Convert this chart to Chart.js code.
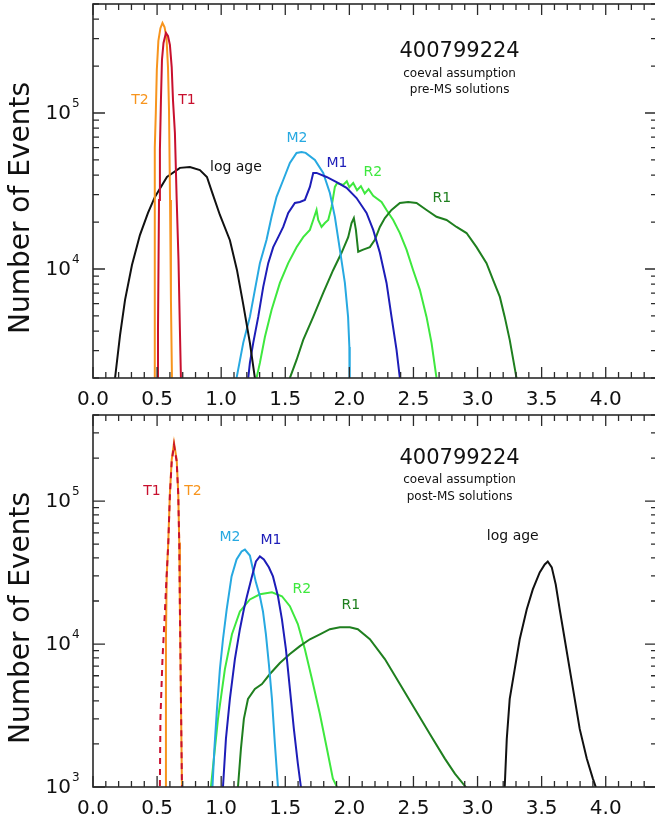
<!DOCTYPE html>
<html>
<head>
<meta charset="utf-8">
<script src="https://cdn.jsdelivr.net/npm/chart.js@4.4.1/dist/chart.umd.min.js"></script>
<style>
  html, body { margin: 0; padding: 0; background: #fff; overflow: hidden; }
  #page { position: relative; width: 655px; height: 820px; overflow: hidden; }
  canvas { position: absolute; left: 0; }
  #preChart { top: 0; }
  #postChart { top: 405px; }
</style>
</head>
<body>
<div id="page">
  <canvas id="preChart" width="660" height="405"></canvas>
  <canvas id="postChart" width="660" height="415"></canvas>
</div>
<script>
// histogram outlines, [age, events] pairs

// pre-MS solutions
const preLogAge = [
  [0.160, 1500], [0.172, 2000], [0.211, 3770], [0.250, 6340], [0.304, 10600],
  [0.366, 16500], [0.429, 22900], [0.483, 29000], [0.577, 38900], [0.678, 44500],
  [0.756, 45100], [0.834, 43100], [0.889, 38900], [0.928, 31200], [0.990, 22200],
  [1.068, 15300], [1.123, 9860], [1.170, 6060], [1.224, 3360], [1.263, 2000], [1.275, 1500]
]
const preT2 = [
  [0.479, 1000], [0.482, 60000], [0.490, 100000], [0.498, 190000], [0.510, 290000],
  [0.526, 350000], [0.542, 378000], [0.558, 356000], [0.573, 307000], [0.585, 197000],
  [0.593, 105000], [0.601, 27700], [0.608, 6340], [0.616, 2000], [0.620, 1000]
]
const preT1 = [
  [0.503, 1000], [0.507, 4060], [0.515, 27700], [0.522, 57900], [0.530, 121000],
  [0.538, 219000], [0.550, 281000], [0.569, 326000], [0.585, 312000], [0.600, 273000],
  [0.614, 197000], [0.624, 121000], [0.639, 74500], [0.653, 27700], [0.667, 11400],
  [0.678, 4060], [0.686, 2000], [0.690, 1000]
]
const preM2 = [
  [1.115, 1500], [1.120, 2000], [1.172, 3360], [1.224, 4930], [1.263, 7350],
  [1.302, 10900], [1.354, 15400], [1.393, 21600], [1.432, 29000], [1.484, 37200],
  [1.536, 47900], [1.588, 55500], [1.627, 56300], [1.659, 55500], [1.731, 50000],
  [1.796, 41300], [1.848, 30700], [1.887, 21600], [1.926, 13300], [1.965, 8140],
  [1.990, 4930], [2.000, 3160], [2.003, 1000]
]
const preM1 = [
  [1.205, 1500], [1.211, 2000], [1.224, 2500], [1.250, 3360], [1.289, 4930],
  [1.328, 7680], [1.367, 10900], [1.406, 13800], [1.445, 16000], [1.484, 18600],
  [1.523, 22900], [1.575, 26500], [1.614, 26900], [1.653, 27700], [1.692, 33600],
  [1.718, 41300], [1.744, 41300], [1.822, 38900], [1.900, 36100], [1.978, 33100],
  [2.056, 28500], [2.134, 22900], [2.186, 17800], [2.238, 12700], [2.290, 8140],
  [2.329, 4930], [2.368, 3030], [2.394, 2000], [2.400, 1500]
]
const preR2 = [
  [1.270, 1500], [1.276, 2000], [1.302, 2500], [1.341, 3660], [1.393, 5460],
  [1.458, 8140], [1.523, 10900], [1.588, 13800], [1.640, 16000], [1.692, 17800],
  [1.718, 20600], [1.744, 23900], [1.757, 20600], [1.783, 18600], [1.809, 19700],
  [1.835, 20600], [1.861, 25000], [1.887, 33600], [1.905, 35600], [1.952, 34600],
  [1.980, 36500], [2.000, 33500], [2.030, 35600], [2.060, 32000], [2.090, 34000],
  [2.120, 30500], [2.150, 32500], [2.186, 29500], [2.251, 26900], [2.290, 23900],
  [2.342, 20600], [2.394, 17000], [2.446, 13300], [2.497, 9860], [2.550, 7350],
  [2.602, 4930], [2.641, 3360], [2.680, 2000], [2.690, 1500]
]
const preR1 = [
  [1.530, 1500], [1.536, 2000], [1.588, 2610], [1.640, 3510], [1.718, 4930],
  [1.796, 7020], [1.874, 9860], [1.939, 12700], [1.991, 16000], [2.017, 19700],
  [2.035, 21200], [2.051, 17800], [2.069, 12900], [2.108, 13300], [2.160, 13800],
  [2.199, 15400], [2.238, 18600], [2.277, 21200], [2.329, 23900], [2.394, 26500],
  [2.459, 26900], [2.524, 26500], [2.602, 23900], [2.680, 21600], [2.758, 20600],
  [2.836, 18600], [2.914, 17000], [2.992, 13800], [3.070, 10900], [3.121, 8510],
  [3.174, 6620], [3.212, 4930], [3.251, 3510], [3.304, 2000], [3.310, 1500]
]

// post-MS solutions
const postT1 = [
  [0.519, 500], [0.526, 3000], [0.542, 7850], [0.558, 14900], [0.573, 28300],
  [0.587, 49700], [0.600, 111000], [0.614, 188000], [0.632, 247000], [0.653, 188000],
  [0.665, 111000], [0.673, 49700], [0.678, 17500], [0.686, 4130], [0.694, 1000], [0.698, 500]
]
const postT2 = [
  [0.565, 500], [0.569, 10800], [0.575, 29700], [0.587, 51300], [0.600, 114000],
  [0.614, 194000], [0.632, 255000], [0.653, 194000], [0.665, 114000], [0.673, 51300],
  [0.678, 17500], [0.686, 4130], [0.694, 1000], [0.698, 500]
]
const postM2 = [
  [0.928, 700], [0.932, 1000], [0.947, 1850], [0.967, 3510], [0.990, 6680],
  [1.014, 10800], [1.043, 17500], [1.081, 29700], [1.120, 39100], [1.159, 44400],
  [1.185, 45800], [1.224, 41600], [1.248, 33200], [1.271, 27000], [1.302, 21600],
  [1.326, 16900], [1.349, 11700], [1.372, 7250], [1.396, 4130], [1.419, 2000],
  [1.443, 1000], [1.447, 700]
]
const postM1 = [
  [1.010, 700], [1.014, 1000], [1.037, 2170], [1.068, 4130], [1.107, 7850],
  [1.146, 12700], [1.177, 17500], [1.201, 21600], [1.240, 29700], [1.271, 37800],
  [1.302, 41000], [1.333, 39100], [1.372, 34400], [1.404, 29700], [1.443, 21600],
  [1.474, 14900], [1.505, 9200], [1.536, 4850], [1.567, 2550], [1.598, 1460],
  [1.622, 1000], [1.626, 700]
]
const postR2 = [
  [0.916, 700], [0.920, 1000], [0.975, 3000], [1.029, 6680], [1.084, 11700],
  [1.146, 16900], [1.224, 20500], [1.302, 22300], [1.396, 23000], [1.474, 21600],
  [1.536, 18400], [1.598, 13800], [1.653, 9200], [1.708, 5690], [1.770, 3240],
  [1.825, 1850], [1.871, 1150], [1.903, 1000], [1.907, 700]
]
const postR1 = [
  [1.127, 700], [1.131, 1000], [1.154, 1850], [1.177, 3000], [1.209, 4130],
  [1.263, 4850], [1.318, 5250], [1.380, 6170], [1.458, 7360], [1.536, 8510],
  [1.614, 9670], [1.692, 10800], [1.770, 11700], [1.848, 12700], [1.926, 13100],
  [2.004, 13100], [2.066, 12700], [2.160, 10800], [2.277, 7850], [2.394, 5250],
  [2.511, 3510], [2.628, 2350], [2.745, 1580], [2.823, 1240], [2.908, 1000], [2.912, 700]
]
const postLogAge = [
  [3.208, 700], [3.212, 1000], [3.228, 2170], [3.251, 4130], [3.290, 6680],
  [3.329, 10800], [3.384, 17500], [3.431, 24100], [3.485, 31700], [3.524, 36000],
  [3.548, 37800], [3.579, 34400], [3.610, 26100], [3.641, 17500], [3.680, 10800],
  [3.719, 6680], [3.758, 4130], [3.797, 2550], [3.852, 1580], [3.899, 1150],
  [3.922, 1000], [3.926, 700]
]

// axis ticks
const xTickLabels = ['0.0', '0.5', '1.0', '1.5', '2.0', '2.5', '3.0', '3.5', '4.0']
const preDecades = [4, 5]
const postDecades = [3, 4, 5]

const FONT = '"DejaVu Sans", "Liberation Sans", sans-serif'
const colors = {
  logAge: '#111111',
  t1: '#c8102e',
  t2: '#f7941d',
  m1: '#1d1db8',
  m2: '#27a9e1',
  r1: '#1f7f1f',
  r2: '#3ee83e'
}

const series = (data, color, extra = {}) => ({
  data: data.map(([x, y]) => ({ x, y })),
  borderColor: color,
  borderWidth: 2,
  pointRadius: 0,
  tension: 0,
  fill: false,
  ...extra
})

// frame with inward ticks on all four sides, tick labels and text notes
const framePlugin = {
  id: 'frame',
  afterDatasetsDraw (chart, args, opts) {
    const { ctx, chartArea: a, scales: { x, y } } = chart
    ctx.save()
    ctx.strokeStyle = '#2a2a2a'
    ctx.lineWidth = 1.6
    ctx.strokeRect(a.left, a.top, a.right - a.left, a.bottom - a.top)

    ctx.lineWidth = 1.3
    ctx.beginPath()
    for (let i = 0; i <= 44; i++) {
      const px = x.getPixelForValue(i / 10)
      const len = i % 5 === 0 ? 11 : 6
      ctx.moveTo(px, a.bottom)
      ctx.lineTo(px, a.bottom - len)
      ctx.moveTo(px, a.top)
      ctx.lineTo(px, a.top + len)
    }
    for (let d = 2; d <= 6; d++) {
      for (let m = 1; m <= 9; m++) {
        const v = m * Math.pow(10, d)
        if (v < y.min || v > y.max) continue
        const py = y.getPixelForValue(v)
        const len = m === 1 ? 12 : 6
        ctx.moveTo(a.left, py)
        ctx.lineTo(a.left + len, py)
        ctx.moveTo(a.right, py)
        ctx.lineTo(a.right - len, py)
      }
    }
    ctx.stroke()

    ctx.fillStyle = '#111'
    ctx.font = '20px ' + FONT
    ctx.textAlign = 'center'
    ctx.textBaseline = 'top'
    xTickLabels.forEach((t) => {
      ctx.fillText(t, x.getPixelForValue(parseFloat(t)), a.bottom + 12)
    })

    opts.decades.forEach((d) => {
      const py = y.getPixelForValue(Math.pow(10, d))
      ctx.font = '20px ' + FONT
      ctx.textAlign = 'right'
      ctx.textBaseline = 'middle'
      ctx.fillText('10', a.left - 22, py + 1)
      ctx.font = '12px ' + FONT
      ctx.textAlign = 'left'
      ctx.fillText(String(d), a.left - 21, py - 9)
    })

    ctx.save()
    ctx.translate(22, (a.top + a.bottom) / 2 + 17)
    ctx.rotate(-Math.PI / 2)
    ctx.font = '28px ' + FONT
    ctx.textAlign = 'center'
    ctx.textBaseline = 'middle'
    ctx.fillText('Number of Events', 0, 0)
    ctx.restore()

    ctx.textAlign = 'center'
    ctx.textBaseline = 'middle'
    opts.notes.forEach((n) => {
      ctx.fillStyle = n.color || '#111'
      ctx.font = (n.size || 14) + 'px ' + FONT
      ctx.fillText(n.text, x.getPixelForValue(n.x), y.getPixelForValue(n.y))
    })
    ctx.restore()
  }
}

const makeChart = (id, datasets, yMin, yMax, padding, decades, notes) => new Chart(document.getElementById(id), {
  type: 'line',
  data: { datasets },
  options: {
    responsive: false,
    animation: false,
    layout: { padding },
    plugins: {
      legend: { display: false },
      tooltip: { enabled: false },
      frame: { decades, notes }
    },
    scales: {
      x: { type: 'linear', min: 0, max: 4.4, display: false },
      y: { type: 'logarithmic', min: yMin, max: yMax, display: false }
    }
  },
  plugins: [framePlugin]
})

makeChart('preChart', [
  series(preT1, colors.t1),
  series(preT2, colors.t2),
  series(preLogAge, colors.logAge),
  series(preM1, colors.m1),
  series(preM2, colors.m2),
  series(preR1, colors.r1),
  series(preR2, colors.r2)
], 2000, 500000, { left: 93, top: 4, right: 3, bottom: 27 }, preDecades, [
  { text: 'T2', x: 0.366, y: 121000, color: colors.t2 },
  { text: 'T1', x: 0.733, y: 121000, color: colors.t1 },
  { text: 'log age', x: 1.115, y: 45100 },
  { text: 'M2', x: 1.591, y: 69200, color: colors.m2 },
  { text: 'M1', x: 1.903, y: 47900, color: colors.m1 },
  { text: 'R2', x: 2.183, y: 41900, color: colors.r2 },
  { text: 'R1', x: 2.721, y: 28500, color: colors.r1 },
  { text: '400799224', x: 2.86, y: 246000, size: 21 },
  { text: 'coeval assumption', x: 2.86, y: 178000, size: 12 },
  { text: 'pre-MS solutions', x: 2.86, y: 141000, size: 12 }
])

makeChart('postChart', [
  series(postT1, colors.t1, { borderDash: [6, 5] }),
  series(postT2, colors.t2),
  series(postLogAge, colors.logAge),
  series(postM1, colors.m1),
  series(postM2, colors.m2),
  series(postR1, colors.r1),
  series(postR2, colors.r2)
], 1000, 400000, { left: 93, top: 10, right: 3, bottom: 33 }, postDecades, [
  { text: 'T1', x: 0.460, y: 116000, color: colors.t1 },
  { text: 'T2', x: 0.780, y: 116000, color: colors.t2 },
  { text: 'M2', x: 1.068, y: 55600, color: colors.m2 },
  { text: 'M1', x: 1.388, y: 53000, color: colors.m1 },
  { text: 'R2', x: 1.630, y: 24100, color: colors.r2 },
  { text: 'R1', x: 2.012, y: 18700, color: colors.r1 },
  { text: 'log age', x: 3.275, y: 56500 },
  { text: '400799224', x: 2.86, y: 197000, size: 21 },
  { text: 'coeval assumption', x: 2.86, y: 141000, size: 12 },
  { text: 'post-MS solutions', x: 2.86, y: 107000, size: 12 }
])
</script>
</body>
</html>
